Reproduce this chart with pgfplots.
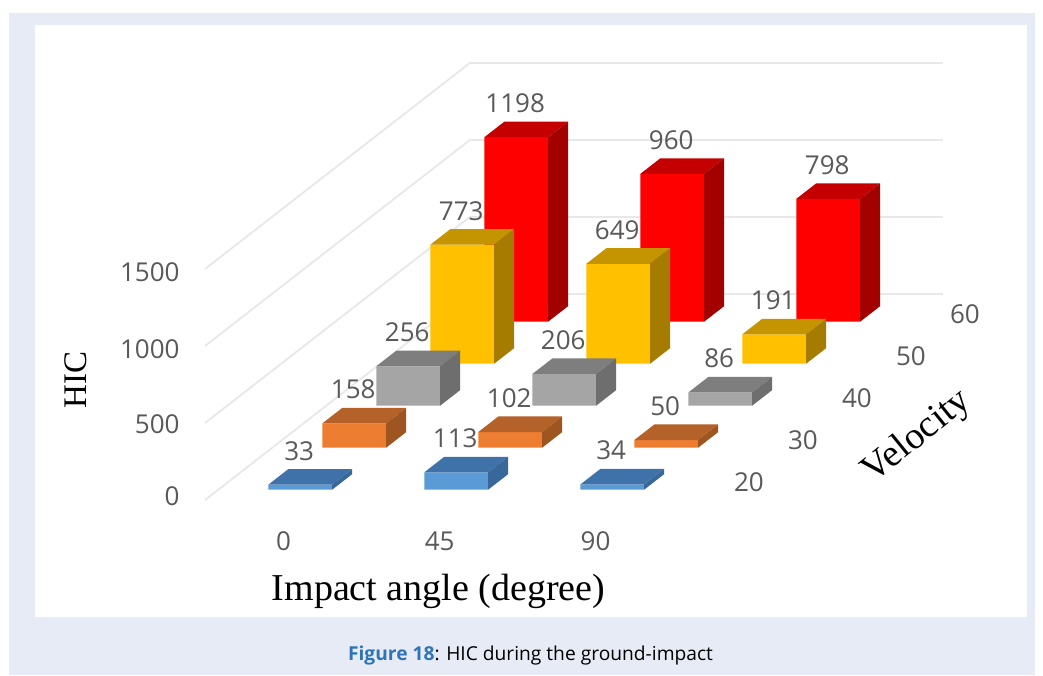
\documentclass[border=0pt]{standalone}
\usepackage{fontspec}
\usepackage{pgfplots}
\usepackage{pgfplotstable}
\pgfplotsset{compat=1.18}
\setmainfont{Open Sans}
\newfontfamily\serif{Liberation Serif}

\definecolor{panel}{HTML}{E7EBF6}
\definecolor{ticktxt}{HTML}{595959}
\definecolor{capblue}{HTML}{2F75B5}
\definecolor{hred}{HTML}{FF0000}
\definecolor{hredtop}{HTML}{C40000}
\definecolor{hredside}{HTML}{A30000}
\definecolor{hyel}{HTML}{FFC000}
\definecolor{hyeltop}{HTML}{C49500}
\definecolor{hyelside}{HTML}{A67C00}
\definecolor{hgray}{HTML}{A5A5A5}
\definecolor{hgraytop}{HTML}{7E7E7E}
\definecolor{hgrayside}{HTML}{6E6E6E}
\definecolor{horg}{HTML}{ED7D31}
\definecolor{horgtop}{HTML}{B5622A}
\definecolor{horgside}{HTML}{9E5520}
\definecolor{hblue}{HTML}{5B9BD5}
\definecolor{hbluetop}{HTML}{3F72A8}
\definecolor{hblueside}{HTML}{38689A}

\pgfplotstableread{
angle vel hic
0  60 1198
45 60 960
90 60 798
0  50 773
45 50 649
90 50 191
0  40 256
45 40 206
90 40 86
0  30 158
45 30 102
90 30 50
0  20 33
45 20 113
90 20 34
}\hicdata

% one bar: angle, velocity, HIC, colour name
\newcommand{\hicbar}[4]{%
  \pgfmathsetmacro{\xa}{#1-9.2}\pgfmathsetmacro{\xb}{#1+9.2}%
  \pgfmathsetmacro{\ya}{#2-1.85}\pgfmathsetmacro{\yb}{#2+1.85}%
  \addplot3[fill=#4,draw=none] coordinates {(\xa,\ya,0) (\xb,\ya,0) (\xb,\ya,#3) (\xa,\ya,#3) (\xa,\ya,0)};
  \addplot3[fill=#4top,draw=none] coordinates {(\xa,\ya,#3) (\xb,\ya,#3) (\xb,\yb,#3) (\xa,\yb,#3) (\xa,\ya,#3)};
  \addplot3[fill=#4side,draw=none] coordinates {(\xb,\ya,0) (\xb,\yb,0) (\xb,\yb,#3) (\xb,\ya,#3) (\xb,\ya,0)};
}

\begin{document}
\begin{tikzpicture}[x=1pt,y=1pt]
  \path (0,0) rectangle (1043,675);
  \fill[panel] (9,0) rectangle (1035,662);
  \fill[white] (35,58) rectangle (1027,650);
  \node[font=\fontsize{19.2}{23}\selectfont,anchor=center] at (530.5,19)
    {\textcolor{capblue}{\textbf{Figure 18}}: HIC during the ground-impact};
  \begin{axis}[
    at={(287pt,175pt)}, anchor=origin,
    x={(3.4667pt,0pt)}, y={(5.4pt,4.2pt)}, z={(0pt,0.154pt)},
    xmin=-23.65, xmax=112.6, ymin=15.7, ymax=64.8, zmin=0, zmax=1500,
    clip=false,
    axis line style={draw=none}, tick style={draw=none},
    xtick={0,45,90}, ytick={20,30,40,50,60}, ztick={0,500,1000,1500},
    zmajorgrids=true, xmajorgrids=false, ymajorgrids=false,
    major grid style={draw=black!9,line width=1.8pt},
    tick label style={font=\fontsize{26}{30}\selectfont,text=ticktxt,
      /pgf/number format/assume math mode=true},
    /pgf/number format/1000 sep={},
    xticklabel style={xshift=3pt,yshift=-28pt},
    yticklabel style={xshift=33pt,yshift=15pt},
    zticklabel pos=left,
    zticklabel style={xshift=-22pt,yshift=8pt},
    xlabel={Impact angle (degree)}, ylabel={Velocity}, zlabel={HIC},
    xlabel style={at={(axis cs:43.7,15.7,-591)},anchor=center,font=\serif\fontsize{38}{42}\selectfont},
    ylabel style={at={(axis cs:181.8,15.7,409)},anchor=center,rotate=39,font=\serif\fontsize{38}{42}\selectfont},
    zlabel style={at={(axis cs:-61,15.7,779)},anchor=center,font=\serif\fontsize{33}{38}\selectfont},
  ]
    \hicbar{0}{60}{1198}{hred}
    \hicbar{45}{60}{960}{hred}
    \hicbar{90}{60}{798}{hred}
    \hicbar{0}{50}{773}{hyel}
    \hicbar{45}{50}{649}{hyel}
    \hicbar{90}{50}{191}{hyel}
    \hicbar{0}{40}{256}{hgray}
    \hicbar{45}{40}{206}{hgray}
    \hicbar{90}{40}{86}{hgray}
    \hicbar{0}{30}{158}{horg}
    \hicbar{45}{30}{102}{horg}
    \hicbar{90}{30}{50}{horg}
    \hicbar{0}{20}{33}{hblue}
    \hicbar{45}{20}{113}{hblue}
    \hicbar{90}{20}{34}{hblue}
    % value labels
    \addplot3[only marks,mark=none,point meta=z,
      nodes near coords,
      nodes near coords style={anchor=center,xshift=-11pt,yshift=26pt,
        font=\fontsize{26}{30}\selectfont,text=ticktxt,
        /pgf/number format/assume math mode=true,
        /pgf/number format/fixed,/pgf/number format/precision=0,
        /pgf/number format/1000 sep={}}]
      table[x=angle,y=vel,z=hic] {\hicdata};
  \end{axis}
\end{tikzpicture}
\end{document}
